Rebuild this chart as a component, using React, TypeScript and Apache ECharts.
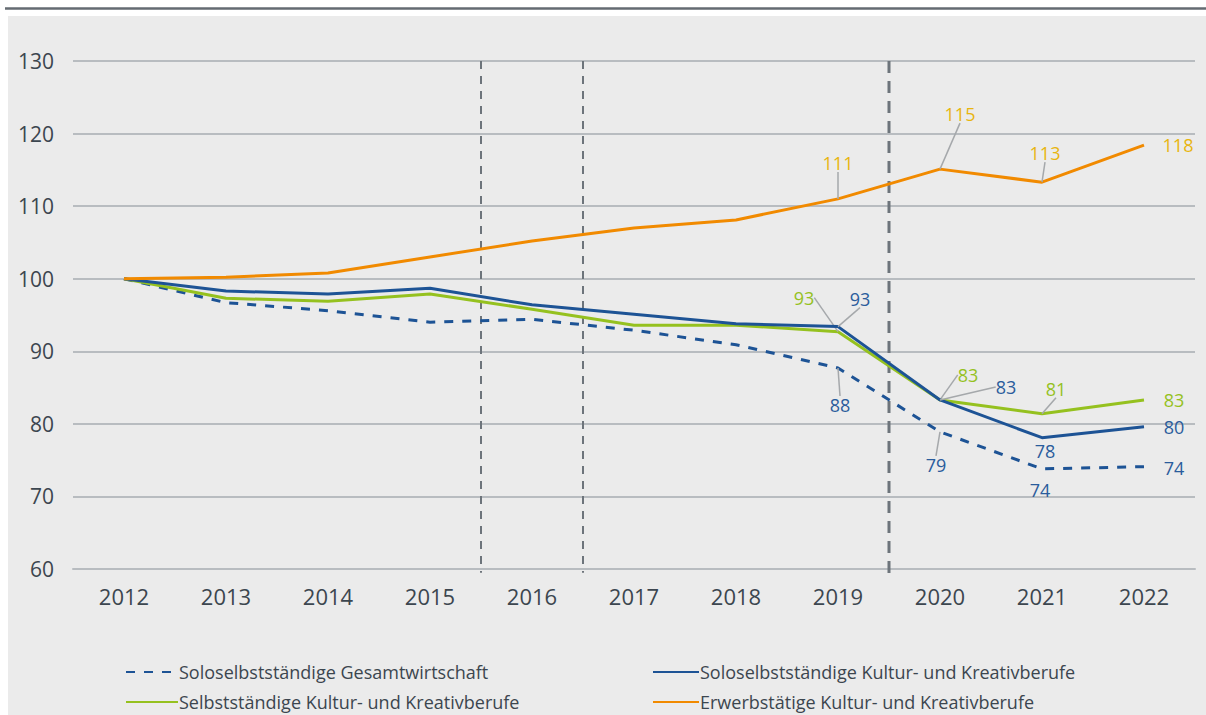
import React, { useEffect, useRef } from "react";
import * as echarts from "echarts";

const years = ["2012", "2013", "2014", "2015", "2016", "2017", "2018", "2019", "2020", "2021", "2022"];
const soloGesamt = [100, 96.7, 95.6, 94.0, 94.4, 92.9, 90.9, 87.7, 78.9, 73.8, 74.1];
const soloKultur = [100, 98.3, 97.9, 98.7, 96.4, 95.1, 93.8, 93.4, 83.3, 78.1, 79.6];
const selbstKultur = [100, 97.3, 96.9, 97.9, 95.8, 93.6, 93.6, 92.7, 83.3, 81.4, 83.3];
const erwerbKultur = [100, 100.2, 100.8, 103.0, 105.2, 107.0, 108.1, 111.0, 115.1, 113.3, 118.4];
const seriesNames = [
  "Soloselbstständige Gesamtwirtschaft",
  "Soloselbstständige Kultur- und Kreativberufe",
  "Selbstständige Kultur- und Kreativberufe",
  "Erwerbstätige Kultur- und Kreativberufe",
];
// vertical break markers between categories (category index + 0.5), top and bottom values
const breakPositions = [3.5, 4.5, 7.5];
const breakBottoms = [59.5, 59.5, 58.6];
const yTicks = { min: 60, max: 130, interval: 10 };

const FONT = "'Open Sans', 'Liberation Sans', sans-serif";
const TEXT = "#3c464f";
const BLUE = "#1d5395";
const GREEN = "#95c11f";
const ORANGE = "#f18a00";
const GOLD = "#e8b50f";
const LEADER = "#a5a8ab";
const BREAK = "#6d747b";

// label offsets (dx, dy) relative to point, and whether a leader line is drawn
const labelOffsets: Record<number, Record<number, [number, number, boolean]>> = {
  0: { 7: [2, 37, true], 8: [-4, 33, true], 9: [-2, 21, false], 10: [30, 1, false] },
  1: { 7: [22, -28, true], 8: [66, -13, true], 9: [3, 13, false], 10: [30, 0, false] },
  2: { 7: [-34, -34, true], 8: [28, -25, true], 9: [14, -25, true], 10: [30, 0, false] },
  3: { 7: [0, -36, true], 8: [20, -55, true], 9: [3, -29, true], 10: [34, 0, false] },
};

function buildData(values: number[], sIdx: number, color: string) {
  return values.map((v, i) => {
    const o = labelOffsets[sIdx][i];
    if (!o) return { value: v };
    return {
      value: v,
      label: {
        show: true,
        position: "inside",
        color,
        fontSize: 18,
        fontFamily: FONT,
        formatter: (p: any) => String(Math.round(p.value)),
      },
      labelLine: { show: o[2], lineStyle: { color: LEADER, width: 1.5 } },
    };
  });
}

export default function App() {
  const ref = useRef<HTMLDivElement>(null);
  useEffect(() => {
    document.body.style.margin = "0";
    const chart = echarts.init(ref.current!, null, { renderer: "svg" });
    const layout = (params: any) => {
      const o = labelOffsets[params.seriesIndex]?.[params.dataIndex];
      if (!o) return {};
      return { dx: o[0], dy: o[1] };
    };
    const mkSeries = (name: string, values: number[], sIdx: number, color: string, labelColor: string, dashed: boolean, z: number) => ({
      name,
      type: "line",
      data: buildData(values, sIdx, labelColor),
      symbol: "circle",
      symbolSize: 0.01,
      showSymbol: true,
      z,
      lineStyle: { color, width: 3, type: dashed ? [9, 9] : "solid" },
      itemStyle: { color },
      label: { show: false },
      labelLine: { show: false, lineStyle: { color: LEADER, width: 1.5 } },
      labelLayout: layout,
    });
    const legendAt = (name: string, left: number, top: number, w: number) => ({
      left,
      top,
      itemWidth: w,
      itemHeight: 14,
      itemStyle: { opacity: 0 },
      data: [name],
      textStyle: { fontFamily: FONT, fontSize: 18, color: TEXT, padding: [0, 0, 0, -4] },
    });
    chart.setOption({
      animation: false,
      graphic: [
        { type: "rect", z: -10, shape: { x: 8, y: 16, width: 1198, height: 699 }, style: { fill: "#ebebeb" } },
        { type: "line", z: -10, shape: { x1: 5, y1: 8.5, x2: 1206, y2: 8.5 }, style: { stroke: "#646b72", lineWidth: 2.5 } },
      ],
      grid: { left: 73, right: 11, top: 61, bottom: 146, containLabel: false },
      legend: [
        legendAt(seriesNames[0], 120, 658, 52),
        legendAt(seriesNames[2], 120, 688, 52),
        legendAt(seriesNames[1], 647, 658, 46),
        legendAt(seriesNames[3], 647, 688, 46),
      ],
      xAxis: [
        {
          type: "category",
          data: years,
          boundaryGap: true,
          axisLine: { lineStyle: { color: "#b8bcc0", width: 2 } },
          axisTick: { show: false },
          axisLabel: { color: TEXT, fontFamily: FONT, fontSize: 22, margin: 16 },
        },
        { type: "value", min: -0.5, max: 10.5, show: false },
      ],
      yAxis: [
        {
          type: "value",
          min: yTicks.min,
          max: yTicks.max,
          interval: yTicks.interval,
          axisLine: { show: false },
          axisTick: { show: false },
          axisLabel: { color: TEXT, fontFamily: FONT, fontSize: 21, margin: 19 },
          splitLine: { lineStyle: { color: "#b8bcc0", width: 2 } },
        },
        { type: "value", min: yTicks.min, max: yTicks.max, show: false },
      ],
      series: [
        mkSeries(seriesNames[0], soloGesamt, 0, BLUE, "#2a5c9c", true, 3),
        mkSeries(seriesNames[1], soloKultur, 1, BLUE, "#2a5c9c", false, 5),
        mkSeries(seriesNames[2], selbstKultur, 2, GREEN, GREEN, false, 4),
        mkSeries(seriesNames[3], erwerbKultur, 3, ORANGE, GOLD, false, 6),
        {
          name: "breaks",
          type: "custom",
          xAxisIndex: 1,
          yAxisIndex: 1,
          silent: true,
          clip: false,
          z: 2,
          data: breakPositions.map((x, i) => [x, yTicks.max, breakBottoms[i]]),
          renderItem: (params: any, api: any) => {
            const top = api.coord([api.value(0), api.value(1)]);
            const bot = api.coord([api.value(0), api.value(2)]);
            const strong = params.dataIndex === 2;
            return {
              type: "line",
              shape: { x1: top[0], y1: top[1], x2: bot[0], y2: bot[1] },
              style: {
                stroke: BREAK,
                lineWidth: strong ? 3 : 2,
                lineDash: strong ? [12, 8] : [8, 7],
              },
            };
          },
        },
      ],
    });
    return () => chart.dispose();
  }, []);
  return <div ref={ref} style={{ width: 1206, height: 715 }} />;
}
